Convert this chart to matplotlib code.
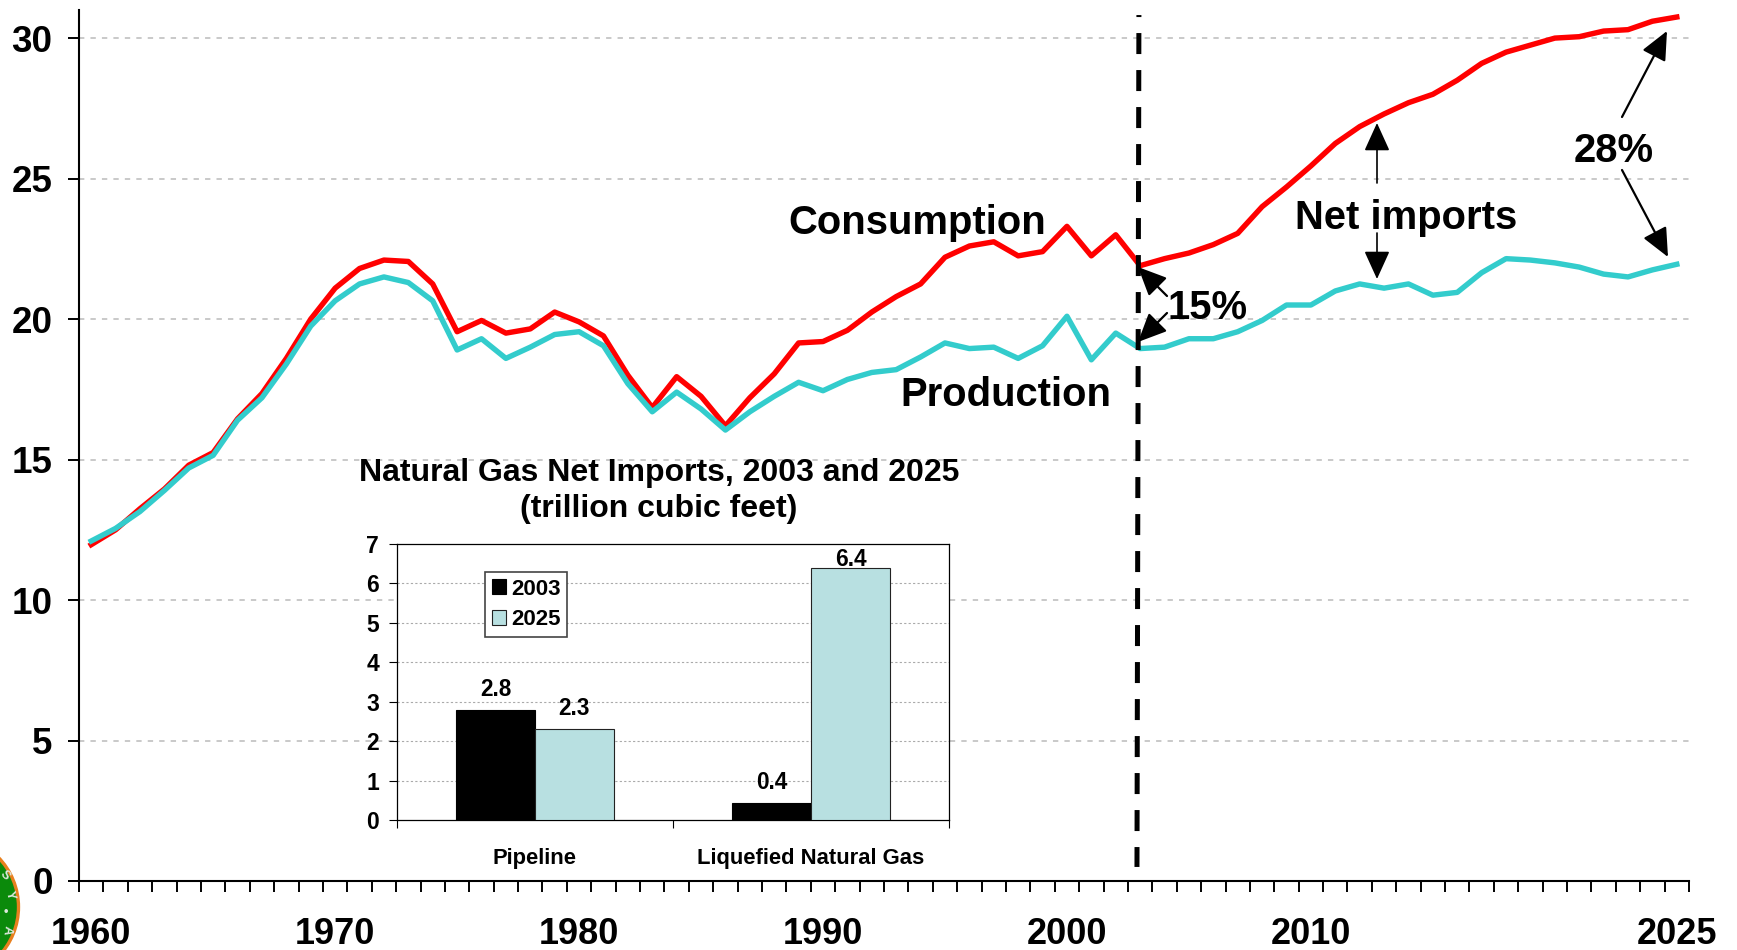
import matplotlib
matplotlib.use('Agg')
import matplotlib.pyplot as plt
from matplotlib.patches import Circle, FancyArrowPatch
from matplotlib.transforms import IdentityTransform

plt.rcParams['font.family'] = ['Liberation Sans', 'DejaVu Sans']
plt.rcParams['font.weight'] = 'bold'

W, H = 1737, 950

years = list(range(1960, 2026))
consumption = [11.97, 12.5, 13.25, 13.95, 14.8, 15.25, 16.45, 17.35, 18.6, 20.0,
               21.1, 21.8, 22.1, 22.05, 21.25, 19.55, 19.95, 19.5, 19.65, 20.25,
               19.9, 19.4, 18.0, 16.85, 17.95, 17.25, 16.2, 17.2, 18.05, 19.15,
               19.2, 19.6, 20.25, 20.8, 21.25, 22.2, 22.6, 22.75, 22.25, 22.4,
               23.3, 22.25, 23.0, 21.9, 22.15, 22.35, 22.65, 23.05, 24.0, 24.7,
               25.45, 26.25, 26.85, 27.3, 27.7, 28.0, 28.5, 29.1, 29.5, 29.75,
               30.0, 30.05, 30.25, 30.3, 30.6, 30.75]
production = [12.1, 12.55, 13.15, 13.9, 14.7, 15.15, 16.4, 17.2, 18.4, 19.75,
              20.65, 21.25, 21.5, 21.3, 20.65, 18.9, 19.3, 18.6, 19.0, 19.45,
              19.55, 19.05, 17.7, 16.7, 17.4, 16.8, 16.05, 16.7, 17.25, 17.75,
              17.45, 17.85, 18.1, 18.2, 18.65, 19.15, 18.95, 19.0, 18.6, 19.05,
              20.1, 18.55, 19.5, 18.95, 19.0, 19.3, 19.3, 19.55, 19.95, 20.5,
              20.5, 21.0, 21.25, 21.1, 21.25, 20.85, 20.95, 21.65, 22.15, 22.1,
              22.0, 21.85, 21.6, 21.5, 21.75, 21.95]
year_labels = [1960, 1970, 1980, 1990, 2000, 2010, 2025]
y_ticks = [0, 5, 10, 15, 20, 25, 30]

inset_categories = ['Pipeline', 'Liquefied Natural Gas']
imports_2003 = [2.8, 0.44]
imports_2025 = [2.3, 6.38]
inset_ticks = [0, 1, 2, 3, 4, 5, 6, 7]


def rect(left, top, right, bottom):
    # пиксели картинки -> доли фигуры
    return [left / W, 1 - bottom / H, (right - left) / W, (bottom - top) / H]


def label(x, y, text, size=28.8):
    fig.text(x / W, 1 - y / H, text, fontsize=size, fontweight='bold',
             ha='center', va='center', zorder=20)


def arrow(x0, y0, x1, y1, lw=1.2):
    fig.add_artist(FancyArrowPatch(
        (x0 / W, 1 - y0 / H), (x1 / W, 1 - y1 / H),
        transform=fig.transFigure, arrowstyle='-|>,head_length=0.88,head_width=0.4',
        mutation_scale=20, lw=lw, color='black', shrinkA=0, shrinkB=0, zorder=15))


fig = plt.figure(figsize=(W / 100, H / 100), dpi=100)

# Основной график
ax = fig.add_axes(rect(79, 10, 1689, 881))
ax.plot(years, consumption, color='#FF0000', lw=3.9, solid_joinstyle='round', zorder=3)
ax.plot(years, production, color='#33CCCC', lw=3.9, solid_joinstyle='round', zorder=4)
ax.set_xlim(1959.5, 2025.5)
ax.set_ylim(0, 31)
ax.set_yticks(y_ticks)
ax.set_xticks([1959.5 + i for i in range(67)])
ax.set_xticklabels([])
ax.tick_params(axis='x', length=8, width=1.4, direction='out')
ax.tick_params(axis='y', length=8, width=1.4, direction='out', pad=11, labelsize=26.5)
for lab in ax.get_yticklabels():
    lab.set_fontweight('bold')
for y in y_ticks[1:]:
    ax.axhline(y, color='#BBBBBB', lw=1.1, dashes=(3.5, 4), zorder=1)
for side in ['top', 'right']:
    ax.spines[side].set_visible(False)
ax.spines['left'].set_linewidth(1.5)
ax.spines['bottom'].set_linewidth(1.5)
for yr in year_labels:
    ax.annotate(str(yr), (yr, 0), xycoords=('data', 'axes fraction'),
                xytext=(0, -54), textcoords='offset pixels',
                ha='center', va='center', fontsize=26, fontweight='bold')

# Граница прогноза (в оригинале чуть наклонена)
ax.plot([2002.95, 2002.87], [30.82, 0.5], color='black', lw=3.6,
        linestyle=(3.8, (4.2, 3.2)), dash_capstyle='butt', zorder=5, clip_on=False)

label(917, 223, 'Consumption')
label(1006, 395, 'Production')
label(1406, 218, 'Net imports')
label(1614, 151, '28%')
label(1207, 308, '15%')

arrow(1377, 183, 1377, 123)
arrow(1377, 233, 1377, 279)
arrow(1622, 117, 1667, 31, lw=1.6)
arrow(1622, 170, 1668, 257, lw=1.6)
arrow(1167, 296, 1138, 267, lw=1.6)
arrow(1167, 313, 1138, 342, lw=1.6)

# Врезка
label(659, 473, 'Natural Gas Net Imports, 2003 and 2025', size=23)
label(659, 509, '(trillion cubic feet)', size=23)

ins = fig.add_axes(rect(397, 544, 949, 820), zorder=2)
x_pos = list(range(len(inset_categories)))
bar_w = 0.286
b1 = ins.bar([x - bar_w / 2 for x in x_pos], imports_2003, bar_w, color='black',
             edgecolor='black', lw=0.8, label='2003', zorder=3)
b2 = ins.bar([x + bar_w / 2 for x in x_pos], imports_2025, bar_w, color='#B8E0E1',
             edgecolor='#222222', lw=0.8, label='2025', zorder=3)
for bars in (b1, b2):
    for b in bars:
        # подпись 6.4 в оригинале прижата к столбцу
        off = -3 if b.get_height() > 6 else 9
        ins.annotate(f'{b.get_height():.1f}', (b.get_x() + bar_w / 2, b.get_height()),
                     xytext=(0, off), textcoords='offset pixels', ha='center', va='bottom',
                     fontsize=16.3, fontweight='bold', zorder=6)
ins.set_xlim(-0.5, 1.5)
ins.set_ylim(0, 7)
ins.set_yticks(inset_ticks)
ins.set_xticks(x_pos)
ins.set_xticklabels(inset_categories, fontsize=15.8, fontweight='bold')
ins.set_xticks([-0.5, 0.5, 1.5], minor=True)
ins.tick_params(axis='x', which='major', length=0, pad=20)
ins.tick_params(axis='x', which='minor', length=6, width=0.8)
ins.tick_params(axis='y', length=6, width=0.8, pad=7, labelsize=16.5)
for lab in ins.get_yticklabels():
    lab.set_fontweight('bold')
for y in inset_ticks[1:-1]:
    ins.axhline(y, color='#AAAAAA', lw=0.8, dashes=(2, 2), zorder=1)
for side in ins.spines.values():
    side.set_linewidth(0.9)
leg = ins.legend(loc='upper left', bbox_to_anchor=(88 / 552, 1 - 28 / 276), ncol=1,
                 fontsize=16, frameon=True, fancybox=False, framealpha=1,
                 edgecolor='#444444', borderpad=0.3, labelspacing=0.42,
                 handlelength=0.66, handleheight=0.66, handletextpad=0.2,
                 borderaxespad=0)
leg.get_frame().set_linewidth(1.2)

# Кусок печати в левом нижнем углу
id_tr = IdentityTransform()
fig.add_artist(Circle((-52.5, 43), 71, transform=id_tr, facecolor='#0B8A0B',
                      edgecolor='#E8801E', lw=2.4, zorder=6))
for sx, sy, ch, rot in [(5, 875, 'S', -50), (10, 895, 'Y', -75), (6, 912, '•', 0), (7, 930, 'A', -100)]:
    fig.text(sx / W, 1 - sy / H, ch, color='#DDE8DD', fontsize=9, rotation=rot,
             ha='center', va='center', zorder=7)

fig.savefig('out.png', dpi=100)
